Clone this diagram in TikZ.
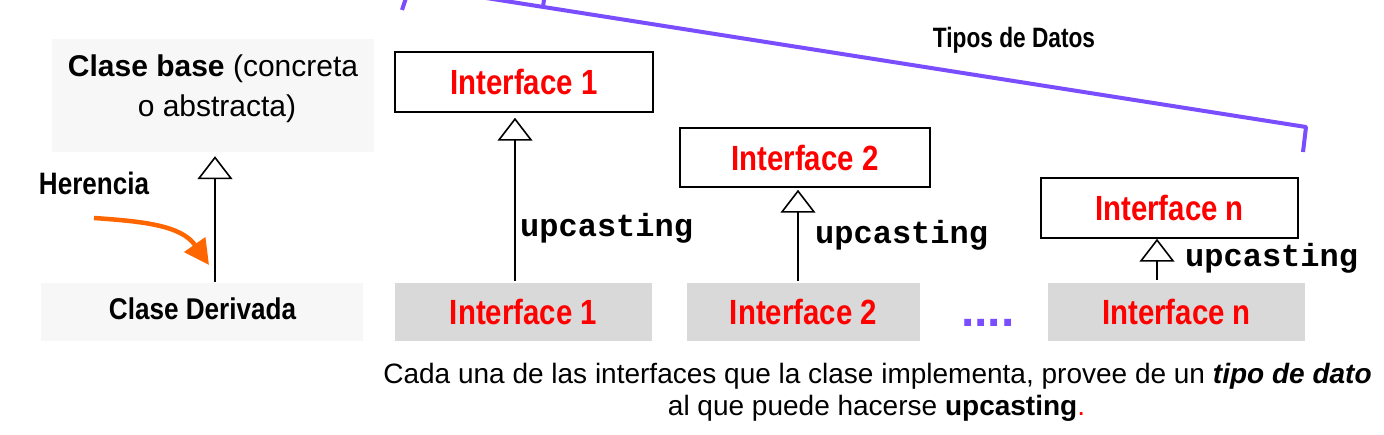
\documentclass[tikz,border=0pt]{standalone}
\usepackage{fontspec}
\setmainfont{Liberation Sans}
\setmonofont{Liberation Mono}
\newfontfamily\nInt[FakeStretch=0.84]{Liberation Sans}
\newfontfamily\nDer[FakeStretch=0.87]{Liberation Sans}
\newfontfamily\nTip[FakeStretch=0.81]{Liberation Sans}
\usetikzlibrary{arrows.meta}
\definecolor{brc}{HTML}{7A4DFF}
\definecolor{org}{HTML}{FF6600}
\definecolor{gbox}{HTML}{D9D9D9}
\definecolor{lbox}{HTML}{F7F7F7}
\begin{document}
\begin{tikzpicture}[x=1pt,y=-1pt,
  ifacetop/.style={draw=black, line width=1.5pt, fill=white, inner sep=0pt, text=red,
    font=\nInt\bfseries\fontsize{35}{42}\selectfont},
  ifacebot/.style={fill=gbox, inner sep=0pt, text=red,
    font=\nInt\bfseries\fontsize{35}{42}\selectfont},
  lightbox/.style={fill=lbox, inner sep=0pt},
  inh/.style={line width=1.6pt, -{Triangle[open, length=23pt, width=35pt, fill=white]}},
  upc/.style={font=\ttfamily\bfseries\fontsize{32}{38}\selectfont, anchor=base west, inner sep=0pt},
  brace/.style={draw=brc, line width=4pt, line join=round},
  plain/.style={inner sep=0pt, anchor=base},
]
\useasboundingbox (0,0) rectangle (1384,435);
\fill[white] (0,0) rectangle (1384,435);

% purple bracket (clipped at top)
\begin{scope}
\clip (0,0) rectangle (1384,435);
\draw[brace] (402,10) -- (410,-14) -- (1306,127) -- (1303,152);
\draw[brace] (543,7) -- (546,-15);
\end{scope}
\node[plain, font=\nTip\bfseries\fontsize{28}{34}\selectfont] (tipos) at (1014,48) {Tipos de Datos};

% left: base / derived
\node[lightbox, minimum width=322pt, minimum height=113pt] (base) at (213,95.5) {};
\node[plain, font=\fontsize{30}{36}\selectfont] (basetxt1) at (213,77) {\textbf{Clase base} (concreta};
\node[plain, font=\fontsize{30}{36}\selectfont] (basetxt2) at (217,117) {o abstracta)};
\node[lightbox, minimum width=322pt, minimum height=58pt] (der) at (202,312) {};
\node[plain, font=\nDer\bfseries\fontsize{30}{36}\selectfont] (dertxt) at (202.5,320) {Clase Derivada};
\node[plain, font=\nInt\bfseries\fontsize{31}{37}\selectfont] (her) at (94,195) {Herencia};
\coordinate (s0) at (215,0);
\draw[inh, shorten >=4pt, shorten <=1pt] (der.north -| s0) -- (base.south -| s0);
\coordinate (hs) at (94,218);
\coordinate (he) at (209,265);
\draw[draw=org, line width=4.5pt, -{Triangle[length=25pt, width=25pt, fill=org]}] (hs) to[out=-4, in=125] (he);

% interfaces
\node[ifacetop, minimum width=258pt, minimum height=60pt] (t1) at (524,82) {Interface 1};
\node[ifacetop, minimum width=250pt, minimum height=59pt] (t2) at (805,157.5) {Interface 2};
\node[ifacetop, minimum width=257pt, minimum height=60pt] (tn) at (1169.5,208) {Interface n};
\node[ifacebot, minimum width=257pt, minimum height=58pt] (b1) at (523.5,312) {Interface 1};
\node[ifacebot, minimum width=233pt, minimum height=58pt] (b2) at (803.5,312) {Interface 2};
\node[ifacebot, minimum width=257pt, minimum height=58pt] (bn) at (1176.5,312) {Interface n};

\coordinate (s1) at (515,0);
\coordinate (s2) at (798,0);
\coordinate (sn) at (1157,0);
\draw[inh, shorten >=5pt, shorten <=2pt] (b1.north -| s1) -- (t1.south -| s1);
\draw[inh, shorten >=2pt, shorten <=2pt] (b2.north -| s2) -- (t2.south -| s2);
\draw[inh, shorten <=3pt] (bn.north -| sn) -- (tn.south -| sn);

\node[upc] (u1) at (520,237) {upcasting};
\node[upc] (u2) at (815,244) {upcasting};
\node[upc] (un) at (1185,267) {upcasting};

\node[inner sep=0pt, anchor=base west, text=brc, font=\bfseries\fontsize{48}{50}\selectfont] (dots) at (961,327) {....};

% caption
\node[plain, font=\fontsize{28}{34}\selectfont] (cap1) at (877.5,384) {Cada una de las interfaces que la clase implementa, provee de un \textbf{\textit{tipo de dato}}};
\node[plain, font=\fontsize{28}{34}\selectfont] (cap2) at (876.5,415) {al que puede hacerse \textbf{upcasting}\textcolor{red}{.}};
\end{tikzpicture}
\end{document}
